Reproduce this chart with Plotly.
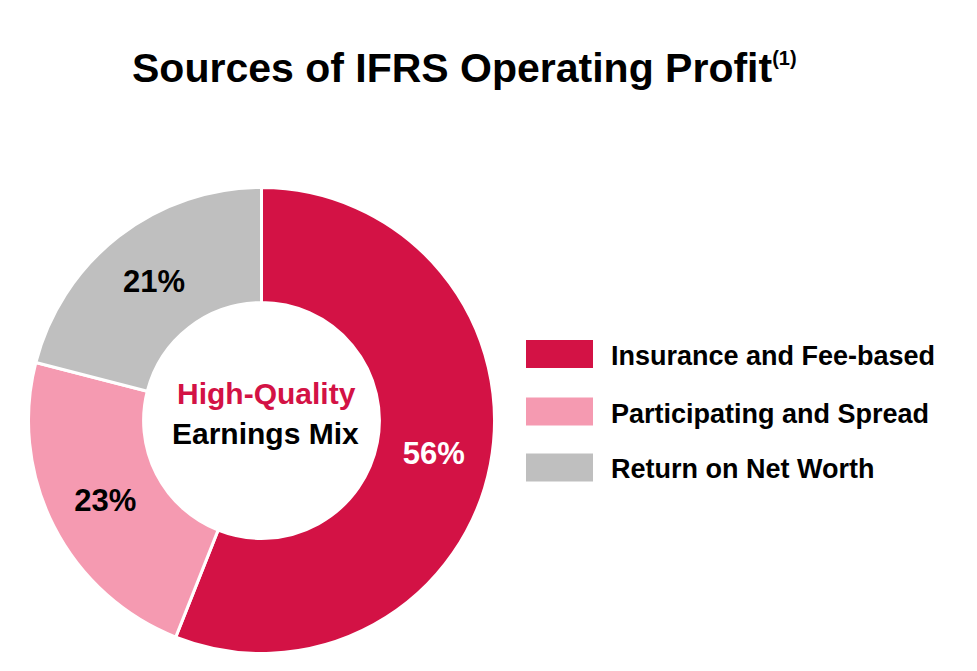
import plotly.graph_objects as go

W, H = 977, 671
OFF = 8  # page body margin

# ---- data ----
categories = ["Insurance and Fee-based", "Participating and Spread", "Return on Net Worth"]
values = [56, 23, 21]
colors = ["#D31245", "#F59AB1", "#BFBFBF"]
title_text = "Sources of IFRS Operating Profit"
title_note = "(1)"
center_line1 = "High-Quality"
center_line2 = "Earnings Mix"

FONT = "Liberation Sans, Arial, sans-serif"

def px(x):
    return (x - OFF) / W

def py(y):
    return 1 - (y - OFF) / H

cx, cy, r = 261.5, 420.5, 233

fig = go.Figure(go.Pie(
    labels=categories,
    values=values,
    text=[f"{v}%" for v in values],
    textinfo="text",
    textposition="inside",
    insidetextorientation="horizontal",
    textfont=dict(family=FONT, size=31, weight="bold", color=["white", "black", "black"]),
    marker=dict(colors=colors, line=dict(color="white", width=3)),
    hole=0.506,
    sort=False,
    direction="clockwise",
    rotation=0,
    showlegend=False,
    domain=dict(x=[px(cx - r), px(cx + r)], y=[py(cy + r), py(cy - r)]),
))

annotations = [
    dict(text=f"{title_text}<sup><span style='font-size:20px'>{title_note}</span></sup>",
         x=px(130), y=py(68),
         xref="paper", yref="paper", xanchor="left", yanchor="middle", showarrow=False,
         font=dict(family=FONT, size=41, weight="bold", color="black")),
    dict(text=center_line1, x=px(266), y=py(393), xref="paper", yref="paper",
         xanchor="center", yanchor="middle", showarrow=False,
         font=dict(family=FONT, size=30, weight="bold", color=colors[0])),
    dict(text=center_line2, x=px(265), y=py(433), xref="paper", yref="paper",
         xanchor="center", yanchor="middle", showarrow=False,
         font=dict(family=FONT, size=30, weight="bold", color="black")),
]

shapes = []
row_y = [354, 411.5, 467.5]
for i, name in enumerate(categories):
    yc = row_y[i]
    shapes.append(dict(type="rect", xref="paper", yref="paper",
                       x0=px(526), x1=px(593), y0=py(yc + 14), y1=py(yc - 14),
                       fillcolor=colors[i], line=dict(width=0)))
    annotations.append(dict(text=name, x=px(609), y=py(yc + 2), xref="paper", yref="paper",
                            xanchor="left", yanchor="middle", showarrow=False,
                            font=dict(family=FONT, size=27, weight="bold", color="black")))

fig.update_layout(
    width=W, height=H,
    margin=dict(l=0, r=0, t=0, b=0),
    paper_bgcolor="white",
    plot_bgcolor="white",
    annotations=annotations,
    shapes=shapes,
)

fig.write_html("out.html")
